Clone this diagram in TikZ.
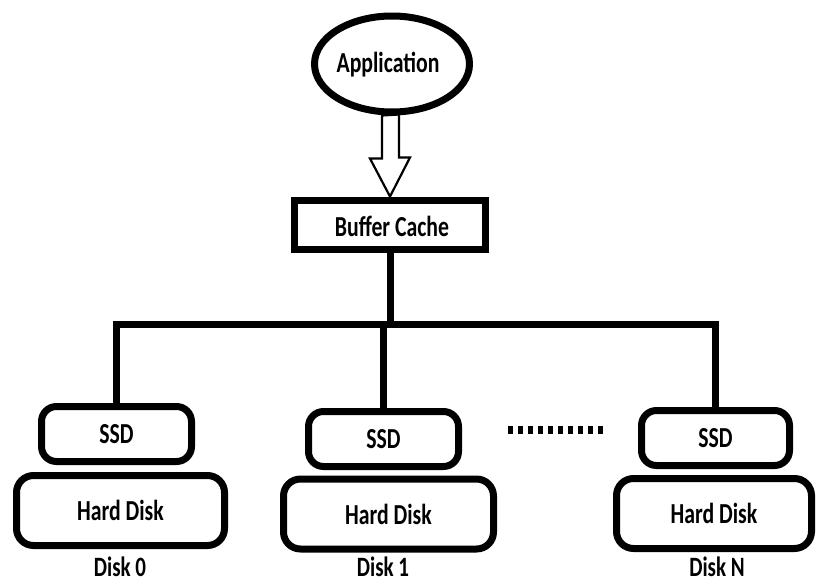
\documentclass[tikz,border=0pt]{standalone}
\usepackage{fontspec}
\setmainfont[FakeStretch=0.75]{Carlito}
\usetikzlibrary{shapes.geometric,calc}

\tikzset{
  lbl/.style={font=\bfseries\fontsize{29}{34}\selectfont, inner sep=0pt},
  disklabel/.style={font=\bfseries\fontsize{28}{32}\selectfont, inner sep=0pt},
  appnode/.style={ellipse, draw, line width=7pt, minimum width=155pt, minimum height=96pt, inner sep=0pt},
  cachebox/.style={draw, line width=7pt, minimum width=191pt, minimum height=49pt, inner sep=0pt},
  ssdbox/.style={draw, line width=7pt, rounded corners=15pt, minimum height=55pt, inner sep=0pt},
  hddbox/.style={draw, line width=7pt, rounded corners=17pt, minimum height=70pt, inner sep=0pt},
  bus/.style={line width=7pt},
  hollow/.style={draw, line width=2.2pt, fill=white, line join=miter},
}

\begin{document}
\begin{tikzpicture}[x=1pt, y=-1pt]
  \useasboundingbox (0,0) rectangle (817,584);

  % application and buffer cache
  \node[appnode] (app) at (392,64) {};
  \node[lbl] at (388,65) {Application};
  \node[cachebox] (bc) at (390,224.5) {};
  \node[lbl] at (392,226) {Buffer Cache};

  % hollow block arrow from the application down to the cache
  \path[hollow] (app.south) ++(-10,0) -- ++(0,43) -- ++(-12,0)
      -- (bc.north) -- ++(20,-39) -- ++(-11,0) -- ++(0,-43) -- cycle;

  % disks: SSD stacked on a hard disk
  \node[hddbox, minimum width=208pt] (hd0) at (120.5,510.5) {};
  \node[ssdbox, minimum width=150pt] (ssd0) at (116.5,434) {};
  \node[lbl] at (ssd0.center) {SSD};
  \node[lbl] at (hd0.center) {Hard Disk};
  \node[disklabel] (d0) at (120,567) {Disk 0};

  \node[hddbox, minimum width=210pt] (hd1) at (388.5,514) {};
  \node[ssdbox, minimum width=150pt] (ssd1) at (383.5,439) {};
  \node[lbl] at (ssd1.center) {SSD};
  \node[lbl] at (hd1.center) {Hard Disk};
  \node[disklabel] (d1) at (383,567) {Disk 1};

  \node[hddbox, minimum width=195pt] (hdN) at (714,513.5) {};
  \node[ssdbox, minimum width=148pt] (ssdN) at (715.5,438) {};
  \node[lbl] at (ssdN.center) {SSD};
  \node[lbl] at (hdN.center) {Hard Disk};
  \node[disklabel] (dN) at (717,567) {Disk N};

  % bus from the cache to the disks
  \coordinate (busy) at (0,324);
  \draw[bus] (bc.south) -- (bc.south |- busy);
  \draw[bus] (ssd0.north) -- (ssd0.north |- busy) -- (ssdN.north |- busy) -- (ssdN.north);
  \draw[bus] (ssd1.north) -- (ssd1.north |- busy);

  % ellipsis between the disks
  \draw[line width=8pt, dash pattern=on 5pt off 5pt] (508,430) -- (603,430);
\end{tikzpicture}
\end{document}
